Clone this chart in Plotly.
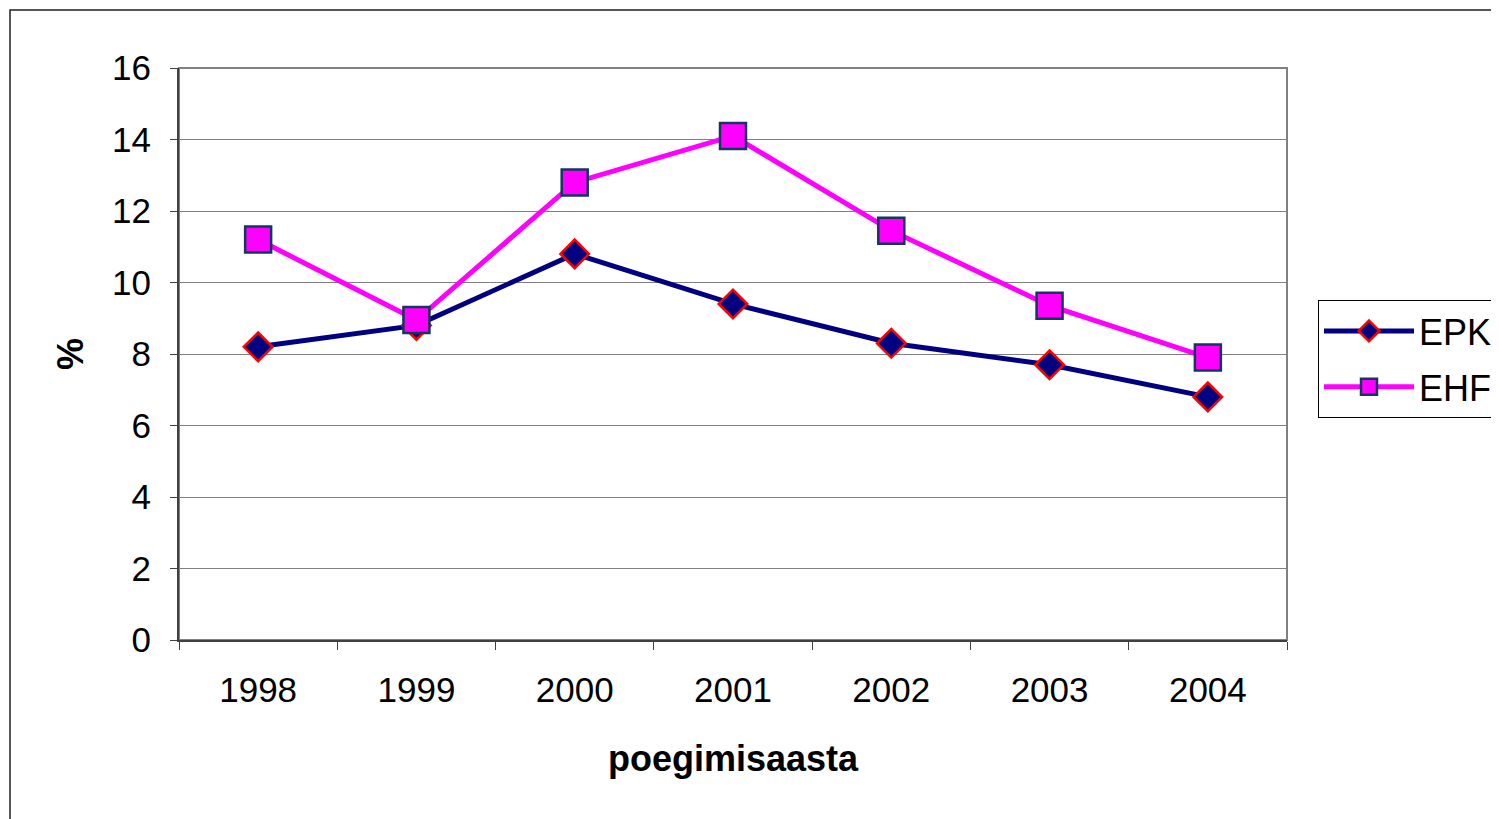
import plotly.graph_objects as go

years = ["1998", "1999", "2000", "2001", "2002", "2003", "2004"]
epk = [8.2, 8.8, 10.8, 9.4, 8.3, 7.7, 6.8]
ehf = [11.2, 8.95, 12.8, 14.1, 11.45, 9.35, 7.9]

OFF = 8  # default page body margin
W, H = 1499 - OFF, 819 - OFF
L, R, T, B = 179 - OFF, 1499 - 1287, 68 - OFF, 819 - 640
pw, ph = W - L - R, H - T - B

def px(x):
    return (x - OFF - L) / pw

def py(y):
    return (OFF + T + ph - y) / ph

fig = go.Figure()
fig.add_trace(go.Scatter(
    x=years, y=epk, name="EPK", mode="lines+markers", legendgroup="a",
    line=dict(color="#000080", width=5),
    marker=dict(symbol="diamond", size=22, color="#000080",
                line=dict(color="#FF0000", width=2.5)),
))
fig.add_trace(go.Scatter(
    x=years, y=ehf, name="EHF", mode="lines+markers", legendgroup="b",
    line=dict(color="#FF00FF", width=5),
    marker=dict(symbol="square", size=26, color="#FF00FF",
                line=dict(color="#0E3A5E", width=2.5)),
))

font = "Liberation Sans, Arial, sans-serif"
fig.update_layout(
    width=W, height=H,
    margin=dict(l=L, r=R, t=T, b=B, autoexpand=False),
    paper_bgcolor="white", plot_bgcolor="white",
    font=dict(family=font, size=35, color="black"),
    showlegend=True,
    legend=dict(x=px(1318), y=py(300), xanchor="left", yanchor="top",
                bordercolor="black", borderwidth=1, bgcolor="white",
                font=dict(size=36), itemwidth=90, itemsizing="trace",
                traceorder="grouped", tracegroupgap=6),
    xaxis=dict(
        type="category", range=[-0.5, 6.5],
        tickson="boundaries", ticks="outside", ticklen=8, tickcolor="#404040",
        showline=True, linecolor="#404040", linewidth=2,
        showgrid=False, zeroline=False,
        tickfont=dict(size=35), ticklabelstandoff=18,
        title=dict(text="<b>poegimisaasta</b>", font=dict(size=36), standoff=38),
    ),
    yaxis=dict(
        range=[0, 16], tickvals=[0, 2, 4, 6, 8, 10, 12, 14, 16],
        ticks="outside", ticklen=7, tickcolor="#404040",
        showline=True, linecolor="#404040", linewidth=2,
        showgrid=True, gridcolor="#808080", gridwidth=1,
        zeroline=False, tickfont=dict(size=35), ticklabelstandoff=12,
        title=dict(text="<b>%</b>", font=dict(size=36), standoff=17),
    ),
    shapes=[
        dict(type="rect", xref="paper", yref="paper",
             x0=0, x1=1, y0=0, y1=1, line=dict(color="#808080", width=2),
             layer="below"),
        dict(type="rect", xref="paper", yref="paper",
             x0=px(10), x1=px(1530), y0=py(10), y1=py(850),
             line=dict(color="#202020", width=1.5), layer="below"),
    ],
)

fig.write_html("out.html")
